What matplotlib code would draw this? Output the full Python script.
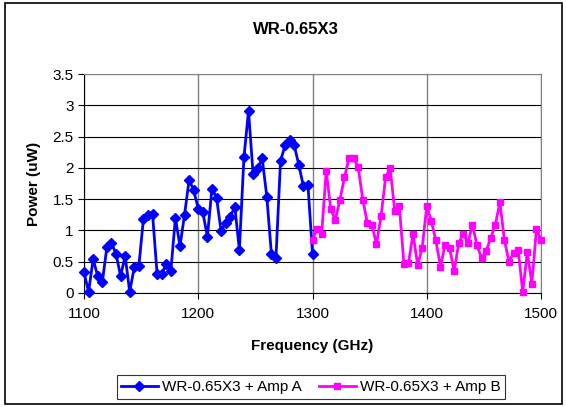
import matplotlib
matplotlib.use("Agg")
import matplotlib.pyplot as plt
from matplotlib.patches import Rectangle
import numpy as np

plt.rcParams["font.family"] = ["Liberation Sans", "DejaVu Sans"]

# =========================
# Data
# =========================
freq_a = np.arange(1100, 1301, 4)
power_a = [0.33, 0.02, 0.54, 0.27, 0.17, 0.73, 0.80, 0.63, 0.27, 0.59,
           0.02, 0.41, 0.43, 1.18, 1.25, 1.26, 0.30, 0.31, 0.46, 0.35,
           1.20, 0.75, 1.25, 1.81, 1.64, 1.35, 1.29, 0.90, 1.67, 1.52,
           0.99, 1.12, 1.22, 1.38, 0.69, 2.17, 2.91, 1.90, 1.99, 2.15,
           1.54, 0.63, 0.56, 2.11, 2.36, 2.45, 2.36, 2.05, 1.71, 1.73,
           0.63]

freq_b = np.arange(1300, 1501, 4)
power_b = [0.85, 1.02, 0.94, 1.95, 1.34, 1.17, 1.49, 1.85, 2.16, 2.16,
           2.01, 1.49, 1.12, 1.09, 0.78, 1.23, 1.85, 1.99, 1.31, 1.39,
           0.47, 0.48, 0.94, 0.45, 0.72, 1.39, 1.15, 0.84, 0.42, 0.77,
           0.72, 0.35, 0.80, 0.95, 0.80, 1.09, 0.76, 0.56, 0.67, 0.88,
           1.09, 1.45, 0.84, 0.50, 0.64, 0.69, 0.02, 0.65, 0.15, 1.02,
           0.85]

label_a = "WR-0.65X3 + Amp A"
label_b = "WR-0.65X3 + Amp B"
x_ticks = [1100, 1200, 1300, 1400, 1500]
y_ticks = [0, 0.5, 1, 1.5, 2, 2.5, 3, 3.5]
y_tick_labels = ["0", "0.5", "1", "1.5", "2", "2.5", "3", "3.5"]

# =========================
# Figure
# =========================
fig = plt.figure(figsize=(5.66, 4.07), dpi=100)
ax = fig.add_axes([84 / 566, 1 - 293 / 407, (541 - 84) / 566, (293 - 74) / 407])

# chart border
fig.patches.append(Rectangle((5 / 566, 3 / 407), 557 / 566, 401 / 407,
                             transform=fig.transFigure, fill=False,
                             edgecolor="black", linewidth=1.2))

ax.plot(freq_a, power_a, color="#0000FF", linewidth=2.0, marker="D",
        markersize=4.8, label=label_a, clip_on=False, zorder=3)
ax.plot(freq_b, power_b, color="#FF00FF", linewidth=2.0, marker="s",
        markersize=5, label=label_b, clip_on=False, zorder=3)

ax.set_xlim(1100, 1500)
ax.set_ylim(0, 3.5)
ax.set_xticks(x_ticks)
ax.set_yticks(y_ticks)
ax.set_yticklabels(y_tick_labels)
ax.tick_params(labelsize=11, direction="out", length=4, width=0.8)
ax.tick_params(axis="x", pad=6)

ax.yaxis.grid(True, color="black", linewidth=0.8)
ax.xaxis.grid(True, color="#808080", linewidth=1.0)
ax.set_axisbelow(True)
for side in ["top", "right"]:
    ax.spines[side].set_color("#808080")
for side in ["left", "bottom"]:
    ax.spines[side].set_color("black")

ax.set_xlabel("Frequency (GHz)", fontsize=11, fontweight="bold", labelpad=13)
ax.set_ylabel("Power (uW)", fontsize=11, fontweight="bold", labelpad=8)
fig.text(296 / 566, 1 - 30 / 407, "WR-0.65X3", fontsize=12, fontweight="bold",
         ha="center", va="center")

leg = fig.legend(loc="center", bbox_to_anchor=(311 / 566, 1 - 387 / 407),
                 ncol=2, fontsize=11, frameon=True, fancybox=False,
                 edgecolor="black", handlelength=2.4, columnspacing=1.1,
                 handletextpad=0.3, borderpad=0.3)
leg.get_frame().set_linewidth(0.8)

plt.savefig("out.png", dpi=100)
plt.close()
